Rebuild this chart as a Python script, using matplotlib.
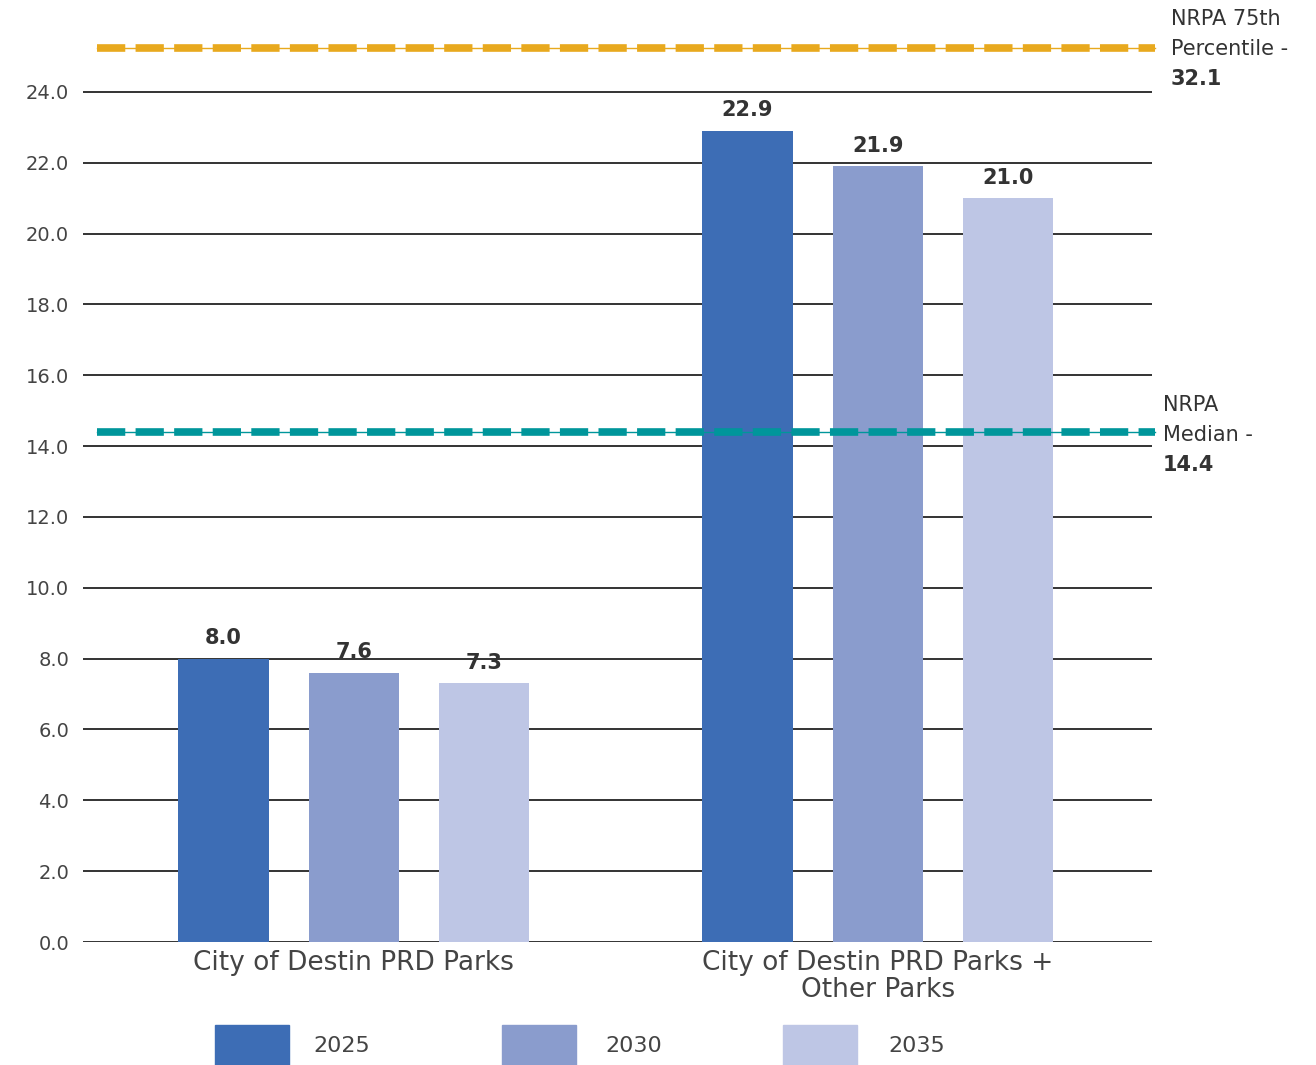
import matplotlib
matplotlib.use("Agg")
import matplotlib.pyplot as plt
from matplotlib.patches import Rectangle
import numpy as np

# ---- data ----
categories = ["City of Destin PRD Parks", "City of Destin PRD Parks +\nOther Parks"]
years = ["2025", "2030", "2035"]
values_2025 = [8.0, 22.9]
values_2030 = [7.6, 21.9]
values_2035 = [7.3, 21.0]
series = [values_2025, values_2030, values_2035]
yticks = [0, 2, 4, 6, 8, 10, 12, 14, 16, 18, 20, 22, 24]
median_value = 14.4
median_label = ["NRPA", "Median -", "14.4"]
p75_value = 32.1
p75_label = ["NRPA 75th", "Percentile -", "32.1"]

colors = ["#3D6DB5", "#8A9CCD", "#BEC6E5"]
orange = "#E8A91E"
teal = "#00969B"
grid_c = "#333333"
text_c = "#444444"

W, H = 1316, 1065
fig = plt.figure(figsize=(W / 100, H / 100), dpi=100)
ymax = 25.5
ax_left, ax_right = 83 / W, 1152 / W
ax_bottom = (H - 942) / H
px_per_unit = 35.42
ax_h = ymax * px_per_unit / H
ax = fig.add_axes([ax_left, ax_bottom, ax_right - ax_left, ax_h])
ax.set_ylim(0, ymax)
ax.set_xlim(-0.517, 1.523)

# gridlines
for t in yticks:
    ax.axhline(t, color=grid_c, lw=1.4, zorder=1)

x = np.arange(len(categories))
offset = 0.249
width = 0.172
for i, (vals, col) in enumerate(zip(series, colors)):
    xs = x + (i - 1) * offset
    ax.bar(xs, vals, width=width, color=col, zorder=2)
    for xi, v in zip(xs, vals):
        ax.text(xi, v + 0.3, f"{v:.1f}", ha="center", va="bottom",
                fontsize=15, fontweight="bold", color="#333333", zorder=4)

# reference lines (dashed with a thin connecting line)
def ref_line(y, col):
    ax.plot([-0.49, 1.528], [y, y], color=col, lw=1.0, zorder=3, clip_on=False)
    ax.plot([-0.49, 1.528], [y, y], color=col, lw=5.5, dashes=(3.7, 1.35),
            zorder=3, clip_on=False, dash_capstyle="butt")

ref_line(median_value, teal)
p75_draw = min(p75_value, 25.24)
ref_line(p75_draw, orange)

# annotations
def side_label(lines, x_px, y_top_px):
    for k, s in enumerate(lines):
        fig.text(x_px / W, 1 - (y_top_px + 30 * k) / H, s, ha="left", va="center",
                 fontsize=15, color="#333333",
                 fontweight="bold" if k == len(lines) - 1 else "normal")

side_label(p75_label, 1171, 19)
side_label(median_label, 1163, 405)

ax.set_yticks(yticks)
ax.set_yticklabels([f"{t:.1f}" for t in yticks], fontsize=14, color=text_c)
ax.tick_params(axis="y", length=0, pad=10)
ax.set_xticks(x)
ax.set_xticklabels(categories, fontsize=19, color=text_c, linespacing=1.05)
ax.tick_params(axis="x", length=0, pad=6)
for s in ax.spines.values():
    s.set_visible(False)

# legend
leg_patch_x = [215, 502, 783]
leg_text_x = [313, 605, 888]
for px, tx, col, lab in zip(leg_patch_x, leg_text_x, colors, years):
    fig.add_artist(Rectangle((px / W, 0), 74 / W, 40 / H, transform=fig.transFigure,
                             color=col))
    fig.text(tx / W, 1 - 1046 / H, lab, ha="left", va="center", fontsize=16,
             color=text_c)

fig.savefig("out.png", dpi=100)
